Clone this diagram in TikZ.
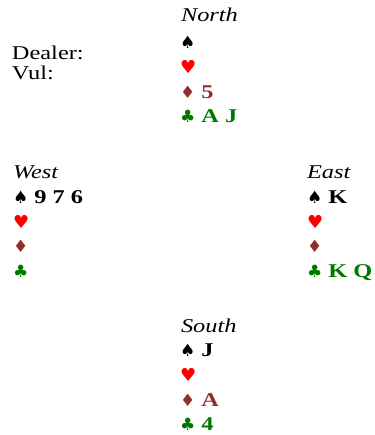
\documentclass[tikz,border=0pt]{standalone}
\usepackage{fontspec}
\setmainfont[FakeStretch=1.25]{Liberation Serif}
\newfontfamily\suitfont{DejaVu Sans}
\definecolor{hcol}{RGB}{255,0,0}
\definecolor{dcol}{RGB}{150,45,45}
\definecolor{ccol}{RGB}{0,120,0}
\newcommand\mySpade{{\suitfont\fontsize{17}{17}\selectfont ♠}}
\newcommand\myHeart{{\color{hcol}\suitfont\fontsize{18}{18}\selectfont ♥}}
\newcommand\myDiam{{\color{dcol}\suitfont\fontsize{17}{17}\selectfont ♦}}
\newcommand\myClub{{\color{ccol}\suitfont\fontsize{17}{17}\selectfont ♣}}
\tikzset{
  txt/.style={anchor=base west, inner sep=0pt, outer sep=0pt, font=\fontsize{19.5}{19.5}\selectfont},
  sp/.style={txt},
  ht/.style={txt, text=hcol},
  di/.style={txt, text=dcol},
  cl/.style={txt, text=ccol},
}
\begin{document}
\begin{tikzpicture}[x=1pt,y=-1pt]
\useasboundingbox (0,0) rectangle (374,435);
% Dealer / Vul
\node[txt] (dealer) at (12,60) {Dealer:};
\node[txt] (vul) at (12,79.5) {Vul:};
% North
\node[txt] (nN) at (181,22) {\textit{North}};
\node[sp] (nS) at (180,49) {\mySpade};
\node[ht] (nH) at (180,74) {\myHeart};
\node[di] (nD) at (180,99) {\myDiam\ \textbf{5}};
\node[cl] (nC) at (180,123) {\myClub\ \textbf{A J}};
% West
\node[txt] (wN) at (13,179) {\textit{West}};
\node[sp] (wS) at (13,204) {\mySpade\ \textbf{9 7 6}};
\node[ht] (wH) at (13,228) {\myHeart};
\node[di] (wD) at (13,252) {\myDiam};
\node[cl] (wC) at (13,277) {\myClub};
% East
\node[txt] (eN) at (307,179) {\textit{East}};
\node[sp] (eS) at (307,204) {\mySpade\ \textbf{K}};
\node[ht] (eH) at (307,228) {\myHeart};
\node[di] (eD) at (307,252) {\myDiam};
\node[cl] (eC) at (307,277) {\myClub\ \textbf{K Q}};
% South
\node[txt] (sN) at (181,332) {\textit{South}};
\node[sp] (sS) at (180,356) {\mySpade\ \textbf{J}};
\node[ht] (sH) at (180,381) {\myHeart};
\node[di] (sD) at (180,406) {\myDiam\ \textbf{A}};
\node[cl] (sC) at (180,430) {\myClub\ \textbf{4}};
\end{tikzpicture}
\end{document}
